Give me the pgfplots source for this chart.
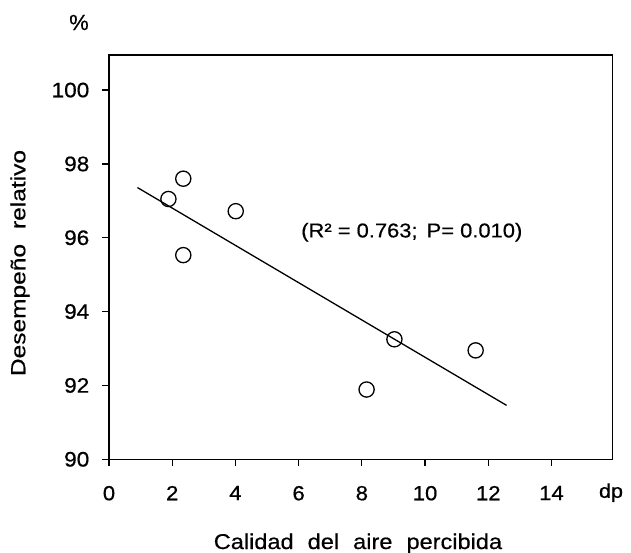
\documentclass[border=0pt]{standalone}
\usepackage{fontspec}
\setmainfont{Liberation Sans}[FakeBold=0.5]
\newfontfamily\widefont[FakeStretch=1.2,FakeBold=0.5]{Liberation Sans}
\newfontfamily\midfont[FakeStretch=1.1,FakeBold=0.5]{Liberation Sans}
\newfontfamily\tickfont[FakeStretch=1.08,FakeBold=0.6]{Liberation Sans}
\usepackage{pgfplots}
\pgfplotsset{compat=1.18}
\begin{document}
\begin{tikzpicture}
\path[use as bounding box] (-109bp,-93.7bp) rectangle (522bp,459.3bp);
\begin{axis}[
  at={(0,0)}, anchor=south west,
  scale only axis, width=503.5bp, height=404.3bp,
  xmin=0, xmax=15.93, ymin=90, ymax=100.95,
  xtick={0,2,...,14}, ytick={90,92,...,100},
  tick align=outside, tick pos=left,
  major tick length=6.5bp,
  axis line style={line width=1.6bp},
  every tick/.style={black, line width=1.2bp},
  /pgf/number format/assume math mode=true,
  ticklabel style={inner sep=0pt},
  xticklabel style={font=\tickfont\fontsize{20.5}{20.5}\selectfont, yshift=-20bp},
  yticklabel style={font=\tickfont\fontsize{21}{21}\selectfont, xshift=-13bp},
  xlabel={Calidad\hspace{0.35em} del\hspace{0.35em} aire\hspace{0.35em} percibida},
  xlabel style={at={(axis description cs:0.4945,-0.2219)}, anchor=base, inner sep=0pt,
    font=\midfont\fontsize{21.5}{21.5}\selectfont},
  ylabel={Desempeño\hspace{0.4em} relativo},
  ylabel style={at={(axis description cs:-0.1768,0.4855)}, anchor=center, inner sep=0pt,
    font=\widefont\fontsize{20.5}{20.5}\selectfont},
  clip=false,
]
\addplot[only marks, mark=o, mark size=7.6bp, mark options={line width=1.3bp, fill=none}, black]
  coordinates {(1.88,97.05) (2.35,97.60) (2.35,95.53) (4.01,96.72) (8.15,91.89) (9.03,93.25) (11.60,92.95)};
\addplot[black, line width=1.3bp] coordinates {(0.9,97.36) (12.58,91.46)};
\node[font=\midfont\fontsize{20}{20}\selectfont, inner sep=0pt] at (axis cs:9.58,96.15) {(R² = 0.763;\hspace{0.15em} P= 0.010)};
\end{axis}
\node[font=\fontsize{22}{22}\selectfont, inner sep=0pt] at (-30bp,436.8bp) {\%};
\node[font=\tickfont\fontsize{20}{20}\selectfont, inner sep=0pt, anchor=base] at (502bp,-38.5bp) {dp};
\end{tikzpicture}
\end{document}
